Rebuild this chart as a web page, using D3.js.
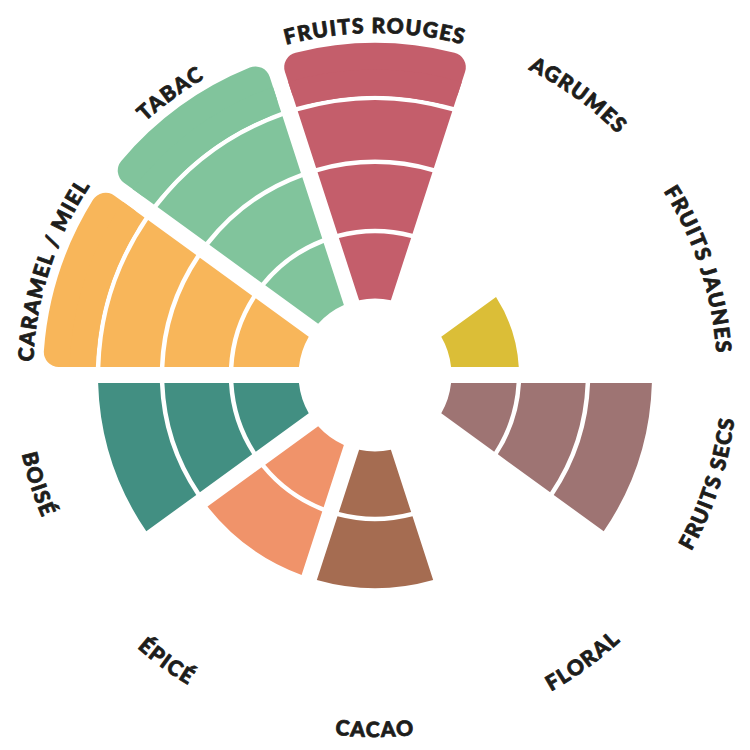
<!DOCTYPE html>
<html><head><meta charset="utf-8">
<script src="https://cdn.jsdelivr.net/npm/d3@7"></script>
<style>html,body{margin:0;padding:0;background:#fff}</style>
</head><body><svg id="chart" width="750" height="750"></svg>
<script>
const categories = ["FRUITS ROUGES","AGRUMES","FRUITS JAUNES","FRUITS SECS","FLORAL","CACAO","ÉPICÉ","BOISÉ","CARAMEL / MIEL","TABAC"];
const values = [4,0,1,3,0,2,2,3,4,4];
const colors = ["#C45E6B","#E8D35A","#DBBE37","#9E7473","#E9A8B8","#A56C51","#F0936A","#428F82","#F8B65A","#81C49C"];
const levels = [0,1,2,3,4];
const levelRadii = [76.5,144,213,277,332];

const W = 750, H = 750, cx = 375, cy = 375;
const svg = d3.select("#chart");
const defs = svg.append("defs");
const g = svg.append("g").attr("transform", `translate(${cx},${cy})`);

const x = d3.scaleBand().domain(categories)
  .range([-Math.PI / categories.length, 2 * Math.PI - Math.PI / categories.length]).padding(0);
const r = d3.scaleLinear().domain(levels).range(levelRadii);
const sep = 4.5, halfGap = 8, padA = 0.2, corner = 15;
const maxLevel = d3.max(levels);

const arc = d3.arc()
  .padAngle(padA)
  .padRadius(halfGap / Math.sin(padA / 2))
  .cornerRadius(d => d.cr || 0);

const segs = [];
categories.forEach((c, i) => {
  for (let k = 0; k < values[i]; k++) {
    const a0 = x(c), a1 = x(c) + x.bandwidth();
    const ri = r(k) + (k > 0 ? sep / 2 : 0);
    const ro = r(k + 1) - (k + 1 < values[i] ? sep / 2 : 0);
    const rounded = (k + 1 === values[i] && values[i] === maxLevel);
    segs.push({ i, startAngle: a0, endAngle: a1, innerRadius: ri, outerRadius: ro, cr: rounded ? corner : 0 });
    if (rounded) {
      segs.push({ i, startAngle: a0, endAngle: a1, innerRadius: ri, outerRadius: (ri + ro) / 2, cr: 0 });
    }
  }
});

g.selectAll("path.seg").data(segs).join("path")
  .attr("class", "seg")
  .attr("d", arc)
  .attr("fill", d => colors[d.i]);

// labels along arcs
const labels = svg.append("g");
categories.forEach((c, i) => {
  const th = x(c) + x.bandwidth() / 2;
  const norm = ((th % (2 * Math.PI)) + 2 * Math.PI) % (2 * Math.PI);
  const bottom = norm > Math.PI / 2 && norm < 3 * Math.PI / 2;
  const rad = bottom ? 362 : 342;
  const phi = th - Math.PI / 2;
  const span = Math.PI / 3;
  const p = d3.path();
  if (!bottom) {
    p.moveTo(cx + rad * Math.cos(phi - span), cy + rad * Math.sin(phi - span));
    p.arc(cx, cy, rad, phi - span, phi + span, false);
  } else {
    p.moveTo(cx + rad * Math.cos(phi + span), cy + rad * Math.sin(phi + span));
    p.arc(cx, cy, rad, phi + span, phi - span, true);
  }
  defs.append("path").attr("id", "lp" + i).attr("d", p.toString());
  labels.append("text")
    .attr("font-family", "Lato, 'Open Sans', sans-serif")
    .attr("font-weight", 900)
    .attr("font-size", 21)
    .attr("letter-spacing", 1.4)
    .attr("fill", "#1d1d1b")
    .attr("stroke", "#1d1d1b")
    .attr("stroke-width", 0.8)
    .attr("stroke-linejoin", "round")
    .append("textPath")
    .attr("href", "#lp" + i)
    .attr("startOffset", "50%")
    .attr("text-anchor", "middle")
    .text(c);
});
</script></body></html>
